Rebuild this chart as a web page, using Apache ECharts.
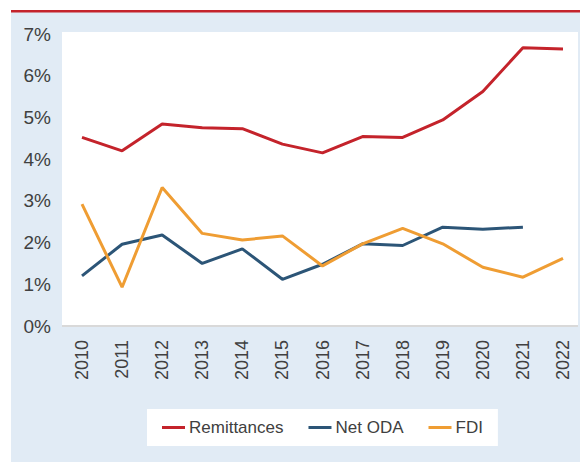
<!DOCTYPE html>
<html>
<head>
<meta charset="utf-8">
<script src="https://cdn.jsdelivr.net/npm/echarts@6/dist/echarts.min.js"></script>
<style>
  html, body { margin: 0; padding: 0; background: #fff; }
  #main { width: 580px; height: 462px; }
</style>
</head>
<body>
<div id="main"></div>
<script>
// 数据
const years = ['2010', '2011', '2012', '2013', '2014', '2015', '2016', '2017', '2018', '2019', '2020', '2021', '2022'];
const remittances = [4.52, 4.20, 4.84, 4.75, 4.73, 4.36, 4.15, 4.54, 4.52, 4.94, 5.62, 6.67, 6.64];
const netOda = [1.20, 1.96, 2.18, 1.50, 1.85, 1.12, 1.48, 1.97, 1.93, 2.37, 2.32, 2.37, null];
const fdi = [2.92, 0.93, 3.32, 2.22, 2.06, 2.16, 1.44, 1.97, 2.34, 1.97, 1.41, 1.17, 1.62];

const font = 'Liberation Sans';
const textColor = '#404040';

const myChart = echarts.init(document.getElementById('main'), null, {renderer: 'svg'});

const option = {
    backgroundColor: '#fff',
    textStyle: { fontFamily: font },
    graphic: [
        // 浅蓝底 + 顶部红线 + 白色绘图区
        { type: 'rect', z: -10, shape: { x: 11, y: 12, width: 569, height: 450 }, style: { fill: '#e1ebf5' } },
        { type: 'rect', z: -9, shape: { x: 11, y: 10, width: 569, height: 2.5 }, style: { fill: '#c4232b' } },
        { type: 'rect', z: -8, shape: { x: 62, y: 32, width: 516, height: 294 }, style: { fill: '#fff' } },
        { type: 'rect', z: -7, shape: { x: 62, y: 325, width: 516, height: 2 }, style: { fill: '#d9d9d9' } }
    ],
    grid: { left: 82, right: 17, top: 34, bottom: 136 },
    legend: {
        left: 147,
        top: 409,
        backgroundColor: '#fff',
        padding: [10, 15, 10, 15],
        itemGap: 25,
        itemWidth: 23,
        itemHeight: 3,
        icon: 'rect',
        textStyle: { fontFamily: font, fontSize: 17, color: textColor, padding: [0, 0, 0, -1] },
        data: ['Remittances', 'Net ODA', 'FDI']
    },
    xAxis: {
        type: 'category',
        data: years,
        boundaryGap: false,
        axisLine: { show: false },
        axisTick: { show: false },
        axisLabel: {
            rotate: 90,
            margin: 14,
            fontFamily: font,
            fontSize: 18,
            color: textColor
        }
    },
    yAxis: {
        type: 'value',
        min: 0,
        max: 7,
        interval: 1,
        splitLine: { show: false },
        axisLine: { show: false },
        axisTick: { show: false },
        axisLabel: {
            margin: 31,
            fontFamily: font,
            fontSize: 19,
            color: textColor,
            formatter: '{value}%'
        }
    },
    series: [
        {
            name: 'Remittances',
            type: 'line',
            data: remittances,
            symbol: 'none',
            lineStyle: { width: 3, color: '#c4232b' },
            itemStyle: { color: '#c4232b' }
        },
        {
            name: 'Net ODA',
            type: 'line',
            data: netOda,
            symbol: 'none',
            lineStyle: { width: 3, color: '#2c5577' },
            itemStyle: { color: '#2c5577' }
        },
        {
            name: 'FDI',
            type: 'line',
            data: fdi,
            symbol: 'none',
            lineStyle: { width: 3, color: '#ef9d33' },
            itemStyle: { color: '#ef9d33' }
        }
    ]
};

myChart.setOption(option);
</script>
</body>
</html>
